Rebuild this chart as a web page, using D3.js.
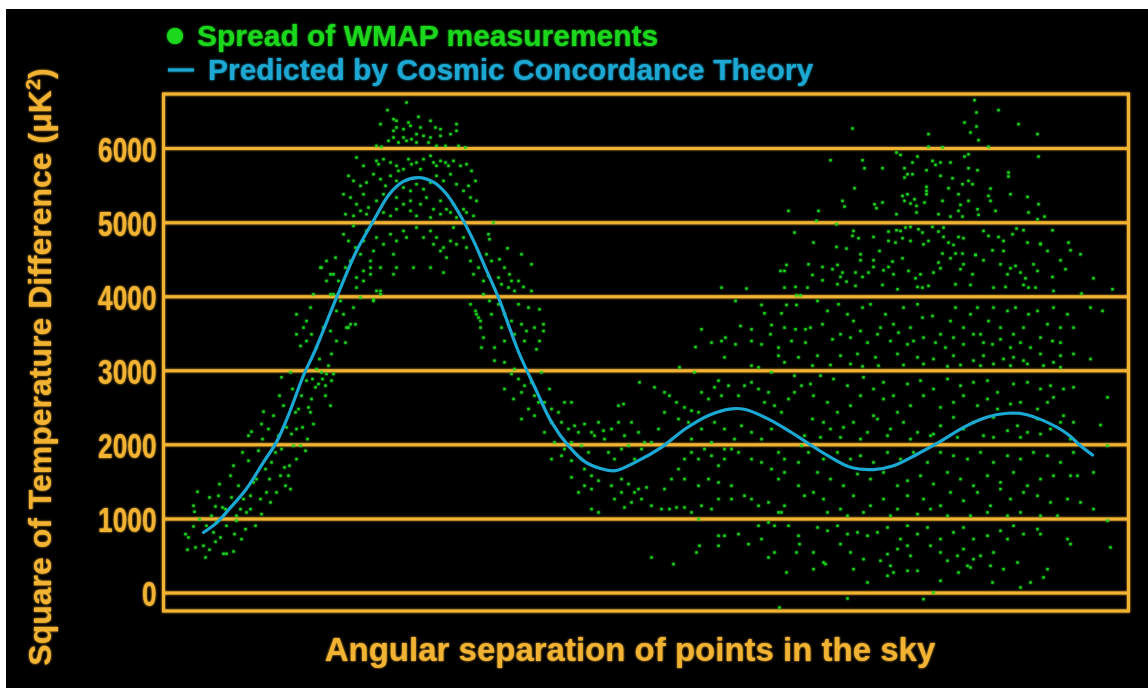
<!DOCTYPE html>
<html>
<head>
<meta charset="utf-8">
<script src="https://cdn.jsdelivr.net/npm/d3@7"></script>
<style>
  body { margin: 0; background: #fff; }
  svg { display: block; }
  text { font-family: "Liberation Sans", Arial, Helvetica, sans-serif; font-weight: bold; }
</style>
</head>
<body>
<svg></svg>
<script>
// y axis ticks (uK^2)
const yTicks = [0, 1000, 2000, 3000, 4000, 5000, 6000]

// predicted curve: [angular position (arbitrary units), uK^2]
const theoryCurve = [[40, 810], [53, 940], [66, 1130], [83, 1400], [100, 1760], [113, 2030], [126, 2430], [140, 2930], [151, 3250], [173, 3980], [193, 4610], [210, 5020], [226, 5380], [240, 5550], [255, 5600], [270, 5540], [283, 5380], [296, 5110], [310, 4750], [322, 4380], [335, 3980], [355, 3250], [372, 2750], [388, 2300], [405, 1980], [422, 1760], [438, 1670], [452, 1645], [472, 1760], [498, 1960], [522, 2210], [545, 2390], [568, 2480], [582, 2470], [605, 2340], [628, 2160], [644, 2020], [664, 1850], [687, 1690], [710, 1660], [730, 1710], [754, 1870], [777, 2040], [800, 2230], [824, 2370], [844, 2420], [860, 2410], [880, 2320], [904, 2140], [917, 1980], [929, 1855]]

const riseDots = [[22,788],[25,743],[24,577],[30,1171],[31,1090],[30,892],[32,608],[34,1360],[36,990],[40,631],[42,473],[43,901],[46,1283],[46,577],[48,1036],[50,811],[52,1162],[52,685],[53,946],[55,1306],[56,1463],[57,743],[60,523],[59,1148],[62,1125],[63,523],[63,901],[67,1577],[68,1283],[70,554],[70,1712],[71,788],[73,969],[73,1036],[75,1441],[77,1125],[78,720],[79,1891],[80,1261],[82,855],[83,1081],[85,2117],[85,1779],[87,1306],[87,1125],[88,2171],[90,1486],[92,901],[93,1531],[95,1914],[97,1261],[98,2274],[98,1058],[99,2071],[100,2441],[102,1666],[103,1351],[105,2207],[106,1531],[107,1216],[108,1756],[110,2387],[112,1891],[113,1351],[115,2117],[116,2657],[117,1577],[118,2905],[118,1936],[120,2522],[121,1689],[122,1441],[123,2229],[125,1577],[126,1712],[127,1396],[127,2972],[128,2139],[129,2747],[130,1981],[132,2432],[133,1801],[133,2207],[135,2477],[137,1981],[138,2657],[139,2229],[142,1914],[143,2860],[144,2071],[145,2499],[147,2432],[148,2612],[149,2882],[150,2274],[152,2770],[153,3017],[155,2815],[156,3152],[158,2972],[159,2882],[162,2657],[162,2792],[163,2950],[165,3062],[167,2522],[168,2860],[170,2950],[168,3220],
  [133,3756],[140,3576],[143,3665],[147,3846],[150,4026],[157,4386],[163,4206],[167,4026],[170,4296],[173,3801],[177,3936],[180,3756],[183,3576],[187,3621],[190,3846],[193,4116],[197,3981],[200,4206],[207,4296],[213,4071],[217,4386],[133,3486],[137,3328],[143,3395],[148,3486],[153,3306],[160,3576],[167,3530],[173,3395],[182,3373],[185,3576],[192,3621],[210,3936],[217,4026]]

const peakDots = [[243,6615],[224,6512],[230,6390],[233,6368],[233,6278],[217,6323],[245,6345],[247,6300],[255,6422],[240,6255],[257,6278],[267,6368],[272,6278],[277,6255],[253,6188],[260,6165],[267,6143],[230,6143],[225,6098],[235,6075],[243,6098],[248,6120],[253,6075],[287,6188],[293,6323],[293,6233],[277,6165],[230,6233],[240,6143],[265,6075],[273,6030],[282,6030],[295,6030],[302,6008],[218,6017],[213,6030],
  [193,5872],[200,5760],[213,5827],[215,5782],[220,5850],[227,5805],[233,5760],[235,5692],[240,5715],[245,5850],[248,5782],[253,5805],[257,5715],[260,5850],[267,5895],[270,5805],[273,5760],[277,5827],[282,5805],[285,5760],[290,5827],[297,5760],[303,5782],[308,5692],
  [185,5625],[190,5557],[197,5490],[203,5535],[210,5647],[217,5580],[222,5490],[227,5625],[233,5557],[240,5467],[247,5422],[253,5512],[260,5445],[267,5535],[273,5625],[280,5557],[287,5647],[293,5512],[300,5422],[305,5490],[312,5557],
  [180,5377],[187,5332],[193,5242],[200,5377],[205,5197],[213,5287],[220,5377],[233,5332],[240,5242],[247,5287],[257,5242],[263,5332],[270,5174],[277,5287],[283,5174],[290,5242],[300,5174],[307,5332],[313,5287],
  [182,5107],[190,5084],[197,5152],[203,5107],[220,5130],[227,5084],[233,5174],[247,5152],[253,5084],[267,5062],[277,5107],[287,5130],[293,5062],[303,5130],[310,5084],
  [180,4837],[185,4746],[190,4949],[192,4657],[197,4566],[200,4746],[203,4881],[207,4476],[210,4611],[213,4792],[220,4701],[227,4837],[230,4566],[233,4746],[240,4881],[243,4792],[250,4386],[253,4927],[260,4792],[267,4881],[270,4701],[273,4792],[277,4611],[280,4657],[283,4521],[287,4746],[290,4927],[293,4701],[300,4792],[303,4657],[307,4476],[310,4296],[315,4386],[320,4206],[163,4476],[167,4296],[172,4521],[175,4206],[182,4386],[187,4476],[193,4251],[200,4341],[207,4386],[217,4071],[210,3958],[307,3891],[313,3756],[317,3665],[320,4026],[158,4386],[170,4026],[267,4386],[280,4319],[233,4386],[230,4296],
  [312,3801],[315,3711],[317,3576],[320,3441],[318,3306]]

const fallDots = [[330,4994],[325,4837],[326,4769],[344,4647],[358,4566],[368,4431],[323,4566],[328,4476],[336,4499],[341,4386],[346,4296],[335,4251],[325,4274],[348,4206],[338,4161],[355,4206],[360,4125],[345,4116],[351,4071],[368,4071],[326,3936],[335,3891],[355,3891],[341,3756],[328,3756],[365,3846],[376,3823],[348,3665],[358,3621],[363,3530],[380,3621],[380,3530],[338,3576],[351,3486],[371,3576],[341,3395],[361,3395],[376,3395],[331,3306],[373,3283],
  [331,3130],[341,3107],[351,3017],[348,2950],[355,2882],[361,2792],[341,2747],[350,2612],[358,2702],[368,2837],[371,2657],[378,2972],[375,2567],[365,2477],[358,2342],[371,2387],[381,2567],[388,2477],[386,2747],[395,2432],[401,2567],[408,2567],[388,2297],[398,2297],[405,2207],[411,2251],[415,2162],[421,2274],[428,2162],[381,2162],[391,2026],[401,1936],[408,2026],[418,1981],[425,1891],[388,1801],[398,1846],[408,1779],[418,1801],[421,1666],[428,1576],[431,2117],[435,2297],[441,2071],[448,2207],[455,2297],[461,2117],[468,2297],[475,2162],[481,2026],[455,2522],[460,2544],[440,2185],[445,1891],[451,1801],[458,1936],[465,1981],[471,1801],[478,1936],[488,2026],[495,2207],
  [408,1554],[415,1351],[421,1441],[428,1396],[435,1509],[448,1441],[458,1531],[465,1464],[471,1351],[478,1261],[468,1216],[458,1351],[428,1126],[435,1081],[451,1261],[461,1148],[475,1396],[483,1419],[488,1171],[498,1126],[506,1126],[513,1148],[521,1148],[488,473],[510,383]]

const troughDots = [[501,1396],[508,1531],[515,1666],[521,1801],[528,1891],[535,1801],[541,1936],[548,1846],[555,1712],[561,1801],[568,1936],[575,1891],
  [501,2702],[506,2657],[513,2567],[521,2499],[528,2454],[535,2432],[538,2702],[545,2612],[551,2770],[558,2657],[565,2792],[575,2657],[581,2792],[588,2837],[595,2747],[601,2567],[605,2702],[611,2522],[618,2432],[625,2612],[631,2702],[638,2792],[615,3197],[621,3107],[635,3175],[561,3175],[588,3062],[595,3040],[608,2972],[631,2927],[516,3040],[531,2972],[555,2860],[476,2837],[491,2770],
  [501,2432],[515,2342],[525,2297],[538,2207],[551,2297],[561,2207],[571,2071],[578,2251],[588,2162],[598,2071],[608,2207],[615,1891],[621,1801],[635,1756],[638,1981],[641,2117],
  [528,2071],[548,2026],[561,1936],[588,1801],[598,1756],[608,1666],[615,1531],[621,1621],[635,1441],[641,1306],
  [521,1531],[535,1441],[545,1531],[555,1486],[568,1441],[581,1306],[588,1261],[595,1171],[605,1216],[615,1081],[621,1171],[555,1261],[548,1126],[538,1171],[528,1081],[568,1261],[535,991],
  [555,766],[561,766],[575,788],[585,653],[595,901],[598,721],[605,946],[611,901],[618,1081],[625,901],[635,766],[636,653],[633,540],[611,540],[605,473],[623,270],[555,631],[536,631],[533,540],[616,-203],
  [625,5152],[631,4859],[623,4422],[617,4341],[621,4341],[558,4116],[583,4103],[621,4116],[632,4125],[633,4012],[637,4012],[572,3936],[598,3882],[623,3882],[633,3882],[601,3769],[618,3769],[538,3553],[562,3441],[577,3598],[588,3553],[588,3395],[607,3486],[608,3611],[621,3576],[632,3553],[642,3553],[532,3314],[548,3373],[558,3395],[572,3350],[598,3350],[615,3306],[628,3395],[642,3373]]

const tailHighDots = [[811,6647],[835,6512],[813,6480],[801,6345],[813,6291],[807,6210],[815,6107],[855,6323],[874,6188],[689,6264],[765,6188],[765,6017],[779,6010],[825,6017],
  [733,5940],[737,5908],[754,5886],[801,5886],[805,5917],[875,5886],[667,5836],[699,5836],[749,5805],[769,5827],[777,5805],[787,5805],[772,5773],[701,5728],[719,5728],[741,5728],[763,5701],[805,5728],[814,5701],[744,5647],[749,5647],[741,5602],[777,5625],[789,5593],[845,5670],[845,5616],[805,5557],[799,5512],[809,5512],[691,5458],[785,5458],[827,5454],[763,5476],[763,5422],[763,5377],[739,5354],[744,5377],[795,5377],[825,5354],[847,5377],[864,5341],[679,5287],[719,5265],[741,5287],[751,5309],[747,5251],[753,5219],[761,5265],[779,5287],[805,5287],[827,5287],[797,5233],[875,5242],[681,5210],[711,5242],[713,5188],[753,5130],[795,5152],[814,5174],[832,5152],[865,5130],[655,5152],[733,5107],[775,5107],[787,5075],[799,5075],[815,5098],[874,5039],[881,5075],
  [653,5017],[673,4972],[690,4881],[689,4814],[695,4783],[710,4800],[725,4873],[733,4891],[737,4881],[742,4927],[747,4935],[755,4904],[759,4859],[769,4935],[780,4927],[650,4724],[673,4665],[683,4643],[697,4566],[697,4485],[710,4485],[725,4746],[732,4724],[739,4783],[747,4746],[760,4701],[765,4746],[775,4873],[780,4800],[785,4724],[790,4692],[795,4800],[800,4783],[812,4557],[820,4881],[825,4814],[835,4800],[840,4746],[849,4837],[853,4913],[860,4891],[864,4724],[877,4710],[889,4891],[905,4724],[907,4620],[917,4566],
  [645,4431],[659,4395],[669,4364],[674,4422],[679,4319],[649,4287],[659,4215],[677,4260],[683,4197],[692,4319],[699,4260],[705,4319],[710,4395],[716,4611],[720,4350],[725,4395],[729,4467],[730,4296],[739,4512],[745,4341],[752,4242],[754,4125],[757,4296],[765,4139],[770,4319],[775,4454],[777,4377],[779,4576],[787,4512],[792,4576],[797,4364],[799,4576],[800,4431],[809,4296],[812,4557],[820,4485],[829,4620],[837,4431],[840,4611],[844,4296],[847,4377],[852,4409],[857,4319],[860,4152],[862,4242],[865,4116],[870,4431],[874,4341],[877,4701],[884,4611],[889,4260],[897,4485],[902,4364],[930,4242],[949,4094],[644,4116],[674,4161],[692,4139],[719,4152],[734,4094],[759,4116],[792,4161],[807,4152],[830,4116],[842,4125],[872,4116],[890,4071],[918,4035],
  [654,3936],[664,3801],[675,3891],[684,3756],[690,3665],[699,3846],[707,3891],[717,3576],[722,3756],[730,3621],[740,3846],[747,3576],[754,3891],[759,3711],[769,3733],[777,3486],[787,3665],[792,3846],[800,3576],[807,3756],[814,3846],[817,3486],[825,3665],[830,3846],[837,3576],[844,3801],[847,3306],[852,3846],[860,3576],[865,3756],[874,3801],[884,3621],[890,3846],[897,3576],[904,3756],[910,3576],[927,3846],[939,3801],[647,3576],[659,3621],[669,3418],[677,3486],[687,3441],[697,3530],[704,3373],[714,3486],[727,3395],[735,3508],[744,3350],[750,3395],[760,3441],[772,3373],[782,3306],[790,3441],[800,3350],[810,3486],[820,3373],[829,3350],[837,3418],[850,3486],[857,3373],[867,3306],[877,3441],[889,3395],[897,3373]]

const tailLowDots = [[654,3197],[677,3197],[694,3220],[712,3175],[734,3220],[754,3175],[770,3152],[790,3197],[810,3130],[820,3197],[840,3152],[850,3175],[860,3130],[877,3220],[890,3107],[897,3197],[910,3220],[927,3152],[649,3062],[667,3071],[687,3085],[699,3053],[715,3062],[740,3071],[760,3085],[784,3053],[797,3071],[817,3062],[830,3085],[847,3062],[864,3085],[880,3062],[897,3040],
  [647,2815],[657,2927],[670,2882],[684,2792],[700,2905],[710,2747],[720,2837],[730,2657],[744,2815],[757,2860],[770,2747],[784,2882],[797,2792],[810,2837],[824,2860],[834,2702],[850,2815],[864,2837],[877,2747],[887,2792],[900,2747],[910,2770],[944,2634],[650,2657],[664,2567],[674,2432],[687,2522],[697,2657],[710,2387],[720,2612],[734,2432],[747,2522],[760,2657],[777,2499],[790,2567],[800,2657],[814,2522],[824,2612],[834,2477],[847,2544],[857,2567],[874,2477],[884,2567],[890,2634],[900,2387],[910,2297],[937,2261],[649,2342],[660,2297],[667,2207],[680,2229],[690,2297],[704,2162],[714,2342],[727,2207],[740,2297],[754,2162],[767,2117],[777,2251],[790,2364],[800,2207],[810,2297],[820,2117],[830,2364],[844,2184],[854,2251],[864,2162],[874,2342],[887,2207],[897,2297],[907,2071],[657,2094],[677,2094],[697,2071],[724,2117],[747,2071],[770,2139],[794,2094],[830,2094],[857,2094],[877,2139],
  [645,1891],[660,1801],[674,1891],[687,1801],[697,1846],[710,1756],[724,1891],[737,1801],[750,1891],[764,1756],[777,1891],[790,1846],[804,1801],[817,1891],[830,1756],[844,1846],[857,1801],[870,1891],[884,1846],[897,1756],[910,1891],[914,1576],[930,1621],[944,1981],[654,1621],[667,1531],[680,1441],[694,1599],[707,1531],[720,1621],[734,1441],[744,1509],[757,1576],[770,1464],[784,1621],[797,1531],[810,1441],[824,1576],[837,1486],[850,1621],[864,1441],[877,1531],[890,1576],[907,1576],[650,1351],[660,1261],[677,1126],[690,1306],[707,1171],[720,1261],[734,1126],[744,1306],[760,1261],[777,1171],[787,1351],[800,1238],[814,1351],[827,1171],[837,1396],[847,1261],[860,1351],[874,1306],[887,1216],[904,1261],[917,1216],[930,1126],[664,1081],[684,1036],[700,1081],[727,1036],[754,1058],[767,1126],[784,1036],[807,1036],[824,1081],[844,1036],[857,1081],[877,1036],[894,1036],[944,968],[947,608],
  [654,878],[664,833],[674,901],[684,788],[694,811],[704,766],[714,811],[724,878],[737,721],[744,901],[754,788],[764,878],[777,721],[790,811],[800,878],[810,721],[824,766],[837,833],[850,901],[860,788],[874,856],[877,788],[904,721],[907,653],[650,540],[660,405],[677,653],[687,540],[700,450],[717,428],[727,360],[724,518],[734,586],[744,631],[747,495],[754,293],[767,631],[777,540],[784,428],[794,495],[800,586],[804,360],[810,450],[817,495],[827,360],[830,540],[840,315],[844,721],[854,405],[867,135],[857,68],[884,315],[880,203],[650,315],[662,383],[690,315],[704,135],[724,225],[730,270],[744,293],[777,158],[795,270],[807,338],[829,135],[770,0],[760,-90],[684,-81]]

const allDots = [...riseDots, ...peakDots, ...fallDots, ...troughDots, ...tailHighDots, ...tailLowDots]

const orange = "#f2b233"
const green = "#1cd81c"
const cyan = "#1ba8d2"

const svg = d3.select("svg")
    .attr("width", 1148)
    .attr("height", 688)

// glow used on lines, dots and text
const glow = svg.append("defs").append("filter")
    .attr("id", "glow")
    .attr("x", "-5%").attr("y", "-5%")
    .attr("width", "110%").attr("height", "110%")
glow.append("feGaussianBlur").attr("stdDeviation", 1.3).attr("result", "b")
const merge = glow.append("feMerge")
merge.append("feMergeNode").attr("in", "b")
merge.append("feMergeNode").attr("in", "SourceGraphic")

// black panel
svg.append("rect")
    .attr("x", 6).attr("y", 9)
    .attr("width", 1142).attr("height", 679)
    .attr("fill", "#000")

const x = d3.scaleLinear().domain([0, 965]).range([163.5, 1128.5])
const y = d3.scaleLinear().domain([-250, 6730]).range([611, 94])

// grid + labels
const frame = svg.append("g").attr("filter", "url(#glow)")

frame.append("rect")
    .attr("x", x(0)).attr("y", y(6730))
    .attr("width", x(965) - x(0)).attr("height", y(-250) - y(6730))
    .attr("fill", "none")
    .attr("stroke", orange)
    .attr("stroke-width", 3)

const yAxis = frame.append("g")
    .attr("transform", `translate(${x(0)},0)`)
    .call(d3.axisLeft(y).tickValues(yTicks).tickSize(-(x(965) - x(0))).tickPadding(7).tickFormat(d3.format("d")))

yAxis.select(".domain").remove()
yAxis.selectAll("line").attr("stroke", orange).attr("stroke-width", 3)
yAxis.selectAll("text")
    .attr("fill", orange)
    .attr("dy", "0.37em")
    .attr("textLength", d => String(d).length * 14.6)
    .attr("lengthAdjust", "spacingAndGlyphs")
    .style("font-size", "35px")
    .style("font-family", "'Liberation Sans', Arial, sans-serif")
    .style("font-weight", "bold")

// measurements
svg.append("g")
    .attr("filter", "url(#glow)")
    .selectAll("rect")
    .data(allDots)
    .enter()
    .append("rect")
    .attr("x", d => x(d[0]) - 1.2)
    .attr("y", d => y(d[1]) - 1.2)
    .attr("width", 2.4)
    .attr("height", 2.4)
    .attr("fill", green)

// theory curve
const line = d3.line()
    .x(d => x(d[0]))
    .y(d => y(d[1]))
    .curve(d3.curveCatmullRom.alpha(0.5))

svg.append("path")
    .datum(theoryCurve)
    .attr("d", line)
    .attr("fill", "none")
    .attr("stroke", cyan)
    .attr("stroke-width", 3.2)
    .attr("stroke-linecap", "round")

// legend
const legend = svg.append("g").attr("filter", "url(#glow)")

legend.append("circle")
    .attr("cx", 175).attr("cy", 36).attr("r", 8)
    .attr("fill", green)

legend.append("text")
    .attr("x", 197).attr("y", 46)
    .attr("fill", green)
    .style("font-size", "30px")
    .text("Spread of WMAP measurements")

legend.append("line")
    .attr("x1", 168).attr("x2", 194)
    .attr("y1", 70).attr("y2", 70)
    .attr("stroke", cyan)
    .attr("stroke-width", 3)

legend.append("text")
    .attr("x", 208).attr("y", 80)
    .attr("fill", cyan)
    .style("font-size", "30px")
    .text("Predicted by Cosmic Concordance Theory")

// axis titles
const titles = svg.append("g").attr("filter", "url(#glow)")

titles.append("text")
    .attr("x", 630).attr("y", 661)
    .attr("text-anchor", "middle")
    .attr("fill", orange)
    .style("font-size", "33px")
    .text("Angular separation of points in the sky")

const yTitle = titles.append("text")
    .attr("transform", "translate(51, 367) rotate(-90)")
    .attr("text-anchor", "middle")
    .attr("fill", orange)
    .style("font-size", "32px")

yTitle.append("tspan").text("Square of Temperature Difference (\u03bcK")
yTitle.append("tspan").attr("baseline-shift", "super").style("font-size", "20px").text("2")
yTitle.append("tspan").text(")")
</script>
</body>
</html>
